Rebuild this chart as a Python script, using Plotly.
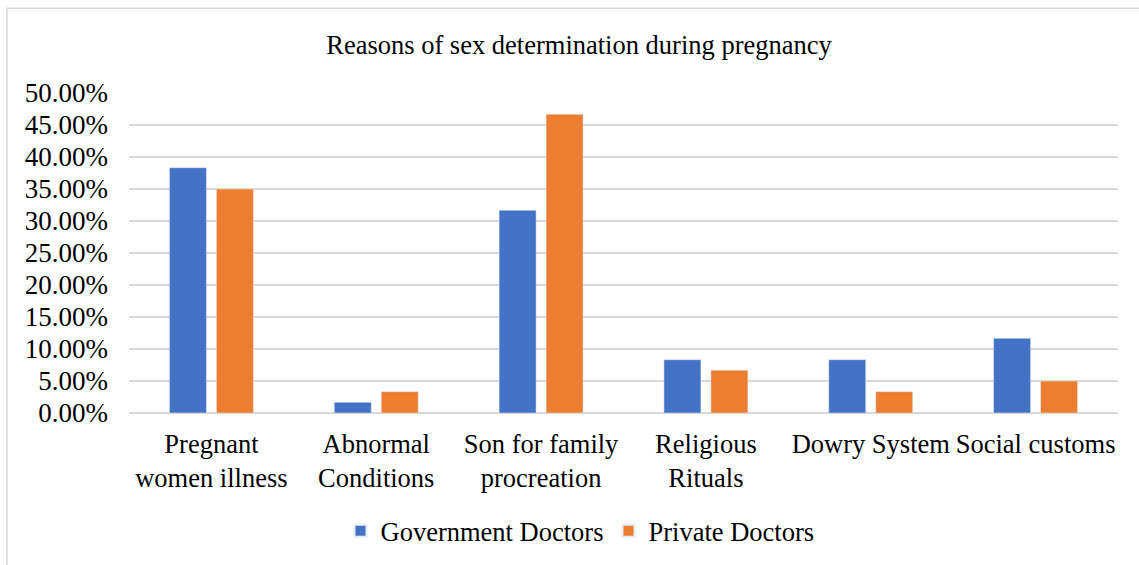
import plotly.graph_objects as go

categories = ["Pregnant<br>women illness", "Abnormal<br>Conditions", "Son for family<br>procreation",
              "Religious<br>Rituals", "Dowry System", "Social customs"]
government = [0.3833, 0.0167, 0.3167, 0.0833, 0.0833, 0.1167]
private = [0.35, 0.0333, 0.4667, 0.0667, 0.0333, 0.05]

FONT = "Liberation Serif, Times New Roman, serif"

fig = go.Figure()
fig.add_trace(go.Bar(name="Government Doctors", x=categories, y=government, marker_color="#4472C4"))
fig.add_trace(go.Bar(name="Private Doctors", x=categories, y=private, marker_color="#ED7D31"))

W, H = 1139, 565
L, R, T, B = 129, 21, 93, 151
pw, ph = W - L - R, H - T - B

def px_x(p):
    return (p - L) / pw

def px_y(p):
    return (H - B - p) / ph

fig.update_layout(
    width=W, height=H,
    margin=dict(l=L, r=R, t=T, b=B),
    paper_bgcolor="white", plot_bgcolor="white",
    font=dict(family=FONT, size=27, color="black"),
    barmode="group", bargap=0.43, bargroupgap=0.213,
    title=dict(text="Reasons of sex determination during pregnancy", x=579 / W, xref="container",
               xanchor="center", y=1 - 45 / H, yanchor="middle", font=dict(size=26.5)),
    showlegend=True,
    legend=dict(orientation="h", x=px_x(580), xanchor="center", y=px_y(531), yanchor="middle",
                font=dict(size=26.5), itemsizing="constant"),
    xaxis=dict(showgrid=False, showline=False, ticks="", tickfont=dict(size=26.5),
               ticklabelstandoff=12),
    yaxis=dict(range=[0, 0.5], dtick=0.05, tickformat=".2%", showgrid=True,
               gridcolor="#d9d9d9", gridwidth=1.5, zeroline=True, zerolinecolor="#d9d9d9",
               zerolinewidth=1.5, ticks="", ticklabelstandoff=20, tickfont=dict(size=27)),
    shapes=[dict(type="rect", xref="paper", yref="paper",
                 x0=px_x(7), x1=px_x(W + 5), y0=px_y(H + 5), y1=px_y(8),
                 line=dict(color="#d9d9d9", width=1.5), fillcolor="rgba(0,0,0,0)", layer="below")],
)

fig.write_html("out.html")
